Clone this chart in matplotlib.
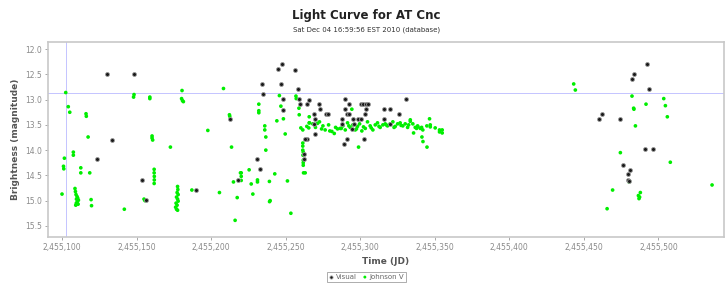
import matplotlib
matplotlib.use("Agg")
import matplotlib.pyplot as plt
from matplotlib.ticker import FuncFormatter, MultipleLocator

JD0 = 2455000

# Visual observations: JD - 2455000, magnitude
visual_jd = [130.0, 148.5, 133.4, 123.3, 153.5, 156.4, 189.7, 212.8, 218.3,
             230.7, 233.1, 262.6, 262.2,
             247.8, 245.1, 256.2, 234.2, 247.0, 234.9, 258.2, 248.5, 259.1, 265.8,
             259.7, 264.6, 248.1, 272.5, 273.2, 268.9, 277.2, 278.3,
             289.5, 292.8, 300.5, 302.0, 303.6, 305.0, 289.9, 291.3, 292.8,
             303.6, 303.0, 287.7, 295.1, 298.5, 300.5, 316.1, 319.7, 330.9,
             325.7, 315.9, 319.7, 287.5, 296.0, 294.2, 291.3, 289.3, 302.7,
             269.8, 264.6, 263.3, 268.7, 269.8,
             492.4, 483.4, 482.5, 493.5, 462.2, 460.4, 474.3, 491.1, 496.4,
             476.0, 481.2, 479.4, 479.7, 480.0]
visual_mag = [12.49, 12.49, 13.80, 14.18, 14.59, 14.98, 14.79, 13.38, 14.59,
              14.18, 14.38, 14.08, 14.18,
              12.30, 12.40, 12.41, 12.69, 12.69, 12.89, 12.79, 12.99, 12.99, 13.01,
              13.09, 13.09, 13.21, 13.09, 13.19, 13.28, 13.28, 13.28,
              12.99, 13.09, 13.09, 13.09, 13.09, 13.09, 13.19, 13.28, 13.28,
              13.19, 13.29, 13.38, 13.38, 13.38, 13.38, 13.19, 13.19, 12.99,
              13.28, 13.38, 13.48, 13.48, 13.48, 13.59, 13.78, 13.88, 13.78,
              13.68, 13.78, 13.78, 13.48, 13.38,
              12.30, 12.49, 12.59, 12.79, 13.28, 13.38, 13.38, 13.98, 13.98,
              14.30, 14.39, 14.48, 14.59, 14.62]

# Johnson V observations: JD - 2455000, magnitude
jv_jd = [102.5, 104.2, 105.2, 101.6, 101.0, 101.2, 100.0, 107.6, 107.6,
         108.7, 109.0, 109.4, 110.1, 110.5, 109.7, 111.0, 110.3, 109.6, 110.8, 109.2,
         112.6, 112.6, 116.1, 116.3, 117.5, 118.6, 119.5, 119.8, 141.8,
         148.3, 148.0, 155.0, 155.6, 158.9, 158.9,
         160.4, 160.4, 160.8, 161.8, 161.8, 161.9, 161.9, 161.8, 172.7,
         177.5, 177.7, 177.2, 177.9, 176.8, 177.5, 177.9, 176.5, 177.2, 176.2, 176.8, 177.5,
         180.5, 180.2, 180.8, 181.4, 187.1, 197.8, 205.6, 208.3, 212.3, 212.5,
         213.7, 215.0, 216.1, 217.5, 219.7,
         220.2, 220.2, 220.2, 225.5, 226.9, 228.0, 231.1, 231.1, 239.1, 242.7,
         239.6, 239.2, 251.2, 253.5, 236.7, 261.8, 261.8, 262.0,
         245.8, 256.9, 257.1, 232.0, 232.0, 232.0, 236.0, 236.0, 236.7, 244.1,
         248.5, 246.8, 249.7, 258.9, 259.1, 260.2, 261.5, 265.8, 265.8, 265.5,
         261.5, 261.5, 261.5, 261.6, 261.8, 261.8, 263.1,
         264.2, 266.0, 268.2, 271.4, 272.7, 275.0, 276.5, 278.8, 281.0, 282.6,
         284.8, 286.6, 288.4, 290.0, 291.5, 293.3, 295.1, 296.7, 298.2, 299.6,
         301.1, 303.4, 304.9, 306.7, 308.5, 310.1, 311.6, 313.4, 315.2, 316.8,
         318.3, 320.1, 321.9, 323.5, 325.1, 326.8, 328.6, 330.2, 331.8, 333.6,
         335.3, 336.9, 338.5, 340.3, 342.0, 344.7, 347.0, 350.3, 353.2, 355.0,
         270.0, 274.1, 279.6, 283.5, 287.3, 292.4, 297.5, 302.2, 307.4, 312.6,
         317.5, 322.7, 327.4, 332.5, 337.8, 341.2,
         298.9, 344.8, 346.5, 347.0, 341.4, 342.1, 335.8, 338.7, 353.2, 355.0,
         333.6, 294.4,
         443.2, 444.3, 482.3, 483.4, 483.6, 491.7, 503.6, 504.7, 506.0, 484.6,
         474.5, 508.0, 480.5, 480.3, 469.3, 536.0, 487.9, 486.6, 487.4, 487.0, 465.6]
jv_mag = [12.86, 13.14, 13.25, 14.16, 14.32, 14.37, 14.87, 14.04, 14.10,
          14.76, 14.82, 14.88, 14.92, 14.95, 14.97, 14.99, 15.02, 15.05, 15.07, 15.09,
          14.35, 14.45, 13.28, 13.33, 13.74, 14.45, 14.98, 15.10, 15.17,
          12.90, 12.95, 14.97, 15.00, 12.95, 12.98,
          13.72, 13.76, 13.80, 14.38, 14.45, 14.52, 14.59, 14.66, 13.94,
          14.72, 14.78, 14.84, 14.88, 14.93, 14.97, 15.01, 15.05, 15.09, 15.13, 15.17, 15.19,
          12.82, 12.98, 13.02, 13.04, 14.79, 13.61, 14.84, 12.78, 13.30, 13.33,
          13.94, 14.63, 15.39, 14.94, 14.45,
          14.45, 14.52, 14.60, 14.39, 14.67, 14.87, 14.63, 14.59, 14.62, 14.47,
          15.00, 15.02, 14.61, 15.25, 14.00, 14.04, 14.30, 14.45,
          12.92, 12.93, 12.98, 13.09, 13.22, 13.26, 13.52, 13.60, 13.74, 13.42,
          13.38, 13.13, 13.68, 13.17, 13.30, 13.56, 13.60, 13.34, 13.46, 13.56,
          13.86, 13.92, 14.00, 14.10, 14.20, 14.25, 14.45,
          13.53, 13.46, 13.48, 13.47, 13.44, 13.52, 13.60, 13.50, 13.63, 13.67,
          13.58, 13.57, 13.52, 13.60, 13.46, 13.55, 13.50, 13.60, 13.53, 13.48,
          13.62, 13.57, 13.44, 13.52, 13.60, 13.50, 13.46, 13.55, 13.50, 13.48,
          13.52, 13.48, 13.44, 13.53, 13.48, 13.46, 13.52, 13.48, 13.55, 13.43,
          13.48, 13.55, 13.52, 13.57, 13.60, 13.52, 13.50, 13.56, 13.64, 13.60,
          13.55, 13.58, 13.62, 13.55, 13.57, 13.52, 13.58, 13.54, 13.56, 13.53,
          13.50, 13.55, 13.51, 13.50, 13.57, 13.55,
          13.94, 13.94, 13.38, 13.54, 13.74, 13.83, 13.66, 13.54, 13.60, 13.66,
          13.40, 13.19,
          12.69, 12.81, 12.93, 13.17, 13.19, 13.09, 12.98, 13.12, 13.34, 13.52,
          14.05, 14.24, 14.61, 14.63, 14.79, 14.69, 14.84, 14.90, 14.93, 14.96, 15.16]

# selected observation (crosshair)
sel_jd = 102.5
sel_mag = 12.86

XTICKS = [2455100, 2455150, 2455200, 2455250, 2455300, 2455350, 2455400, 2455450, 2455500]


def main():
    fig = plt.figure(figsize=(7.25, 2.84), dpi=100)
    ax = fig.add_axes([0.0662, 0.1655, 0.9324, 0.6865])

    # crosshair on the selected point
    ax.axvline(JD0 + sel_jd, color="#c4c4ff", lw=0.7, zorder=1)
    ax.axhline(sel_mag, color="#c4c4ff", lw=0.7, zorder=1)

    ax.scatter([JD0 + d for d in jv_jd], jv_mag, s=7, c="#00ee00", edgecolors="none",
               zorder=3, label="Johnson V")
    ax.scatter([JD0 + d for d in visual_jd], visual_mag, s=8, c="#1a1a1a",
               edgecolors="#9a9a9a", linewidths=0.6, zorder=4, label="Visual")

    ax.set_xlim(2455090.6, 2455544)
    ax.set_ylim(15.72, 11.86)
    ax.set_xticks(XTICKS)
    ax.xaxis.set_major_formatter(FuncFormatter(lambda v, p: f"{int(round(v)):,}"))
    ax.yaxis.set_major_locator(MultipleLocator(0.5))
    ax.yaxis.set_major_formatter(FuncFormatter(lambda v, p: f"{v:.1f}"))

    for s in ax.spines.values():
        s.set_color("#c8c8c8")
        s.set_linewidth(1.2)
    ax.tick_params(colors="#999999", labelsize=5.5, length=2, width=0.6, pad=2,
                   labelcolor="#8a8a8a")

    ax.set_xlabel("Time (JD)", fontsize=6.5, fontweight="bold", color="#555555", labelpad=4)
    ax.set_ylabel("Brightness (magnitude)", fontsize=6.5, fontweight="bold",
                  color="#555555", labelpad=4)

    fig.text(0.505, 0.947, "Light Curve for AT Cnc", ha="center", va="center",
             fontsize=8.5, fontweight="bold", color="#222222")
    fig.text(0.505, 0.894, "Sat Dec 04 16:59:56 EST 2010 (database)", ha="center",
             va="center", fontsize=5, color="#333333")

    handles, labels = ax.get_legend_handles_labels()
    leg = fig.legend(handles[::-1], labels[::-1], loc="center", bbox_to_anchor=(0.505, 0.025),
                     ncol=2, fontsize=5, frameon=True, fancybox=False, handletextpad=0.2,
                     columnspacing=0.8, borderpad=0.3, handlelength=0.8, markerscale=0.8)
    leg.get_frame().set_edgecolor("#888888")
    leg.get_frame().set_linewidth(0.6)
    for t in leg.get_texts():
        t.set_color("#666666")

    fig.savefig("out.png", dpi=100)


if __name__ == "__main__":
    main()
